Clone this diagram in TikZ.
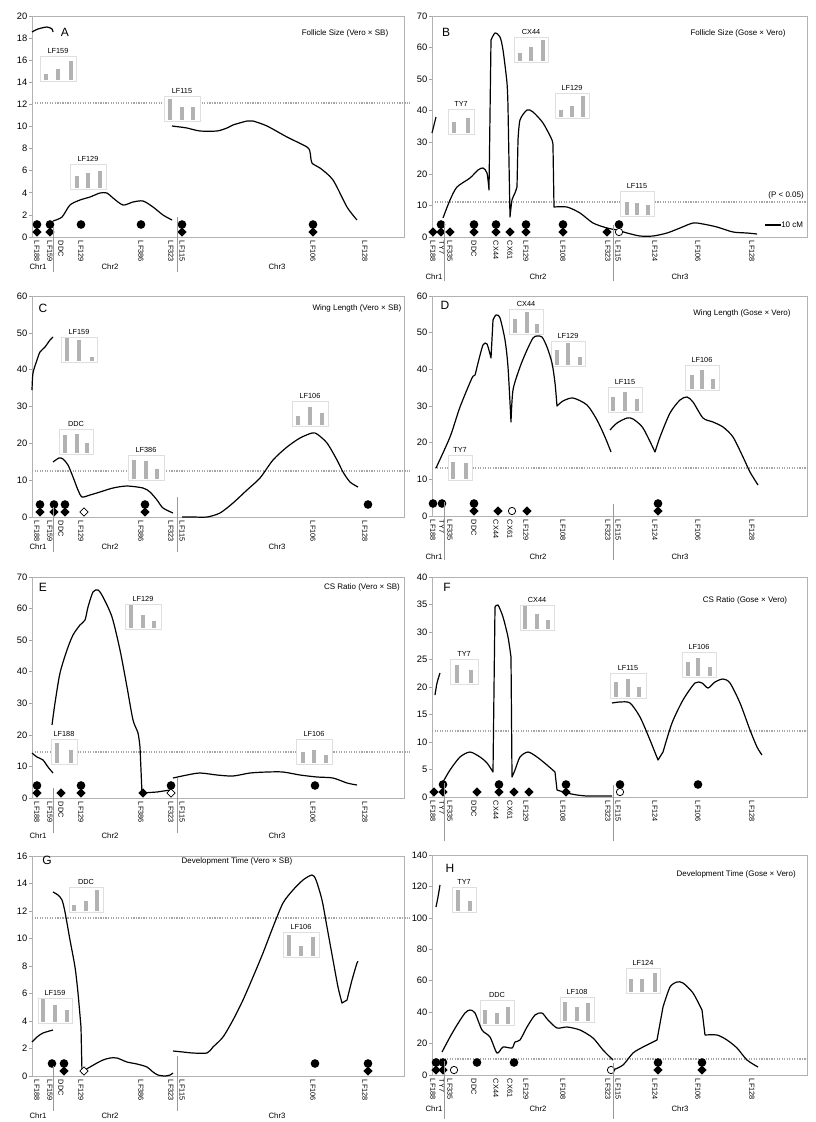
\documentclass[tikz,border=0pt]{standalone}
\usepackage{fontspec}
\setmainfont{Liberation Sans}
\usetikzlibrary{positioning, shapes.geometric}

\tikzset{
  plotbox/.style={draw=gray!60, line width=0.6pt},
  ytick/.style={draw=gray!70, line width=0.5pt},
  ticklab/.style={anchor=east, inner sep=1pt, font=\fontsize{7}{8}\selectfont},
  lod/.style={line width=0.9pt, line join=round},
  thresh/.style={draw=gray!70, densely dotted, line width=0.9pt},
  mlab/.style={rotate=-90, anchor=west, inner sep=0.5pt, font=\fontsize{5.5}{6}\selectfont},
  chrlab/.style={inner sep=0pt, font=\fontsize{5.8}{7}\selectfont},
  ttl/.style={inner sep=0pt, font=\fontsize{6}{7}\selectfont},
  plet/.style={inner sep=0pt, font=\fontsize{9}{10}\selectfont},
  qcirc/.style={circle, fill=black, inner sep=0pt, minimum size=6.5pt},
  qdia/.style={diamond, fill=black, inner sep=0pt, minimum size=7pt},
  qopen/.style={diamond, draw=black, fill=white, inner sep=0pt, minimum size=6.5pt, line width=0.6pt},
  qopenc/.style={circle, draw=black, fill=white, inner sep=0pt, minimum size=5.5pt, line width=0.6pt},
  sepline/.style={draw=gray!80, line width=0.6pt},
  inbox/.style={draw=gray!25, fill=white, line width=0.5pt},
  qbar/.style={fill=gray!60},
  inlab/.style={inner sep=0pt, font=\fontsize{5.5}{6}\selectfont},
}

% panel, x, top, bottom, max, step
\newcommand{\qyaxis}[6]{%
  \foreach \v in {0,#6,...,#5}
    \draw[ytick] (#2,{#4-\v/#5*(#4-#3)}) -- ++(-3,0) node[ticklab] (#1-y\v) {\v};
}
% name, centre x, bottom, half width, label, bars dx/height
\newcommand{\qinset}[6]{%
  \draw[inbox] ({#2-#4},{#3+1.5}) rectangle ({#2+#4},{#3-24});
  \node[inlab] (#1) at (#2,{#3-29}) {#5};
  \foreach \bx/\bh in {#6}
    \fill[qbar] ({#2+(\bx)-2},#3) rectangle ({#2+(\bx)+2},{#3-\bh});
}
\newcommand{\mkboth}[4]{\node[qdia] (#1-#2-d) at (#3,{#4-5}) {}; \node[qcirc] (#1-#2-c) at (#3,{#4-12.5}) {};}
\newcommand{\mkcirc}[4]{\node[qcirc] (#1-#2-c) at (#3,{#4-12.5}) {};}
\newcommand{\mkdia}[4]{\node[qdia] (#1-#2-d) at (#3,{#4-5}) {};}
\newcommand{\mkopen}[4]{\node[qopen] (#1-#2-o) at (#3,{#4-5}) {};}
\newcommand{\mkopenc}[4]{\node[qopenc] (#1-#2-o) at (#3,{#4-5}) {};}

\newcommand{\leftlabels}[2]{%
  \foreach \n/\x in {LF188/37, LF159/50, DDC/61, LF129/81, LF386/141, LF323/171, LF115/182, LF106/313, LF128/365}
    \node[mlab] (#1-\n-lab) at (\x,{#2+3}) {\n};
  \draw[sepline] (53,{#2-10}) -- (53,{#2+35});
  \draw[sepline] (177,{#2-20}) -- (177,{#2+35});
}
\newcommand{\rightlabels}[2]{%
  \foreach \n/\x in {LF188/433, TY7/442, LF335/450, DDC/474, CX44/496, CX61/510, LF129/526, LF108/563, LF323/608, LF115/618, LF124/655, LF106/698, LF128/752}
    \node[mlab] (#1-\n-lab) at (\x,{#2+3}) {\n};
  \draw[sepline] (444,{#2-14}) -- (444,{#2+44});
  \draw[sepline] (613,{#2-12}) -- (613,{#2+44});
}
\newcommand{\leftchr}[2]{%
  \node[chrlab] (#1-chr1) at (38,#2) {Chr1};
  \node[chrlab] (#1-chr2) at (110,#2) {Chr2};
  \node[chrlab] (#1-chr3) at (277,#2) {Chr3};
}
\newcommand{\rightchr}[2]{%
  \node[chrlab] (#1-chr1) at (434,#2) {Chr1};
  \node[chrlab] (#1-chr2) at (538,#2) {Chr2};
  \node[chrlab] (#1-chr3) at (680,#2) {Chr3};
}

\begin{document}
\begin{tikzpicture}[x=0.75pt, y=-0.75pt]
  \useasboundingbox (0,0) rectangle (816,1122);

  % A
  \draw[plotbox] (32,16) rectangle (404,237);
  \qyaxis{A}{32}{16}{237}{20}{2}
  \draw[thresh] (32,103) -- (410,103);
  \qinset{A-LF159}{58}{80}{18}{LF159}{-12/6, 0/11, 13/19}
  \qinset{A-LF115}{182}{120}{18}{LF115}{-12/21, 0/13, 11/13}
  \qinset{A-LF129}{88}{188}{18}{LF129}{-11/12, 0/15, 12/17}
  \draw[lod] plot[smooth, tension=0.45] coordinates {(32,32) (38,29) (47,27) (52,29) (53,32)};
  \draw[lod] plot[smooth, tension=0.45] coordinates {(53,221) (62,217) (70,205) (80,200) (90,197) (100,193) (107,193) (113,198) (123,205) (133,202) (143,201) (153,207) (163,215) (172,220)};
  \draw[lod] plot[smooth, tension=0.45] coordinates {(172,126) (180,127) (187,128) (200,131) (217,131) (227,128) (233,125) (247,121) (253,121) (267,126) (287,137) (307,147) (310,152) (312,163) (320,168) (333,180) (347,207) (357,220)};
  \mkboth{A}{LF188}{37}{237} \mkboth{A}{LF159}{50}{237}
  \mkcirc{A}{LF129}{81}{237} \mkcirc{A}{LF386}{141}{237}
  \mkboth{A}{LF115}{182}{237} \mkboth{A}{LF106}{313}{237}
  \leftlabels{A}{237}
  \leftchr{A}{267}
  \node[plet] (A) at (65,32) {A};
  \node[ttl] (A-title) at (345,33) {Follicle Size (Vero × SB)};

  % B
  \draw[plotbox] (432,16) rectangle (807,237);
  \qyaxis{B}{432}{16}{237}{70}{10}
  \draw[thresh] (432,202) -- (807,202);
  \qinset{B-TY7}{461}{133}{13}{TY7}{-7/11, 7/15}
  \qinset{B-CX44}{531}{61}{17}{CX44}{-11/8, 0/14, 12/21}
  \qinset{B-LF129}{572}{117}{17}{LF129}{-11/7, 0/11, 11/21}
  \qinset{B-LF115}{637}{215}{17}{LF115}{-10/13, 0/12, 11/10}
  \draw[lod] (432,133) -- (436,117);
  \draw[lod] plot[smooth, tension=0.45] coordinates {(443,218) (450,200) (457,187) (470,178) (478,170) (483,168) (487,173) (489,190)}
    -- plot[smooth, tension=0.45] coordinates {(491,40) (495,33) (500,37) (503,50) (507,83) (508,107)}
    -- plot[smooth, tension=0.45] coordinates {(510,217) (512,200) (515,193) (517,187)}
    -- plot[smooth, tension=0.45] coordinates {(518,140) (520,120) (527,110) (533,112) (543,123) (552,140) (553,147)}
    -- plot[smooth, tension=0.45] coordinates {(554,207) (567,207) (580,213) (593,223) (607,228) (617,230) (627,233) (640,236) (653,236) (667,233) (680,228) (693,223) (703,224) (717,227) (733,232) (747,233) (757,234)};
  \mkdia{B}{LF188}{433}{237} \mkboth{B}{TY7}{441}{237} \mkdia{B}{LF335}{450}{237}
  \mkboth{B}{DDC}{474}{237} \mkboth{B}{CX44}{496}{237} \mkdia{B}{CX61}{510}{237}
  \mkboth{B}{LF129}{526}{237} \mkboth{B}{LF108}{563}{237} \mkdia{B}{LF323}{607}{237}
  \mkopenc{B}{LF115}{619}{237} \mkcirc{B}{LF115}{619}{237}
  \rightlabels{B}{237}
  \rightchr{B}{277}
  \node[plet] (B) at (446,32) {B};
  \node[ttl] (B-title) at (738,33) {Follicle Size (Gose × Vero)};
  \node[ttl, anchor=east] (B-p) at (804,195) {(P < 0.05)};
  \coordinate (B-sb) at (765,225);
  \node[ttl, right=12pt of B-sb] (B-sbl) {10 cM};
  \draw[lod] (B-sb) -- (B-sbl.west);

  % C
  \draw[plotbox] (32,296) rectangle (404,517);
  \qyaxis{C}{32}{296}{517}{60}{10}
  \draw[thresh] (32,471) -- (410,471);
  \qinset{C-LF159}{79}{361}{18}{LF159}{-12/23, 0/21, 13/4}
  \qinset{C-DDC}{76}{453}{17}{DDC}{-11/18, 1/19, 11/10}
  \qinset{C-LF386}{146}{479}{18}{LF386}{-12/19, 0/18, 11/10}
  \qinset{C-LF106}{310}{425}{18}{LF106}{-12/9, 0/18, 12/12}
  \draw[lod] plot[smooth, tension=0.45] coordinates {(32,390) (33,373) (37,360) (40,352) (45,347) (50,340) (53,337)};
  \draw[lod] plot[smooth, tension=0.45] coordinates {(53,462) (59,458) (63,459) (68,465) (73,477) (78,490) (82,497) (90,495) (100,492) (113,488) (127,486) (143,488) (150,492) (157,500) (163,508) (173,513)};
  \draw[lod] plot[smooth, tension=0.45] coordinates {(182,517) (193,517) (207,517) (220,513) (233,503) (247,490) (260,478) (273,460) (287,447) (300,438) (312,433) (317,434) (327,443) (337,460) (343,472) (350,482) (358,487)};
  \mkboth{C}{LF188}{40}{517} \mkboth{C}{LF159}{54}{517} \mkboth{C}{DDC}{65}{517}
  \mkopen{C}{LF129}{84}{517} \mkboth{C}{LF386}{145}{517} \mkcirc{C}{LF128}{368}{517}
  \leftlabels{C}{517}
  \leftchr{C}{547}
  \node[plet] (C) at (43,308) {C};
  \node[ttl] (C-title) at (357,308) {Wing Length (Vero × SB)};

  % D
  \draw[plotbox] (432,296) rectangle (807,516);
  \qyaxis{D}{432}{296}{516}{60}{10}
  \draw[thresh] (432,468) -- (807,468);
  \qinset{D-TY7}{460}{479}{12}{TY7}{-7/17, 6/16}
  \qinset{D-CX44}{526}{333}{17}{CX44}{-11/14, 1/21, 11/9}
  \qinset{D-LF129}{568}{365}{17}{LF129}{-11/15, 0/22, 12/8}
  \qinset{D-LF115}{625}{411}{17}{LF115}{-12/14, 0/19, 12/12}
  \qinset{D-LF106}{702}{389}{17}{LF106}{-10/14, 0/19, 11/10}
  \draw[lod] plot[smooth, tension=0.45] coordinates {(436,468) (450,437) (460,407) (472,378) (475,375) (478,363) (483,345) (487,344) (491,358)}
    -- plot[smooth, tension=0.45] coordinates {(493,320) (496,315) (500,318) (505,340) (508,367) (511,422)}
    -- plot[smooth, tension=0.45] coordinates {(511,422) (513,390) (520,367) (527,350) (533,338) (537,336) (542,337) (547,347) (552,363) (555,383) (557,406)}
    -- plot[smooth, tension=0.45] coordinates {(557,406) (563,401) (573,398) (587,405) (597,420) (605,437) (611,452)};
  \draw[lod] plot[smooth, tension=0.45] coordinates {(610,430) (617,423) (627,418) (633,419) (643,428) (655,452)}
    -- plot[smooth, tension=0.45] coordinates {(655,452) (660,437) (670,413) (680,400) (687,397) (693,402) (703,418) (713,422) (723,427) (733,437) (743,457) (750,472) (758,485)};
  \mkcirc{D}{LF188}{433}{516} \mkcirc{D}{TY7}{442}{516} \mkboth{D}{DDC}{474}{516}
  \mkdia{D}{CX44}{498}{516} \mkopenc{D}{CX61}{512}{516} \mkdia{D}{LF129}{527}{516}
  \mkboth{D}{LF124}{658}{516}
  \rightlabels{D}{516}
  \rightchr{D}{557}
  \node[plet] (D) at (445,305) {D};
  \node[ttl] (D-title) at (742,313) {Wing Length (Gose × Vero)};

  % E
  \draw[plotbox] (32,577) rectangle (404,798);
  \qyaxis{E}{32}{577}{798}{70}{10}
  \draw[thresh] (32,752) -- (410,752);
  \qinset{E-LF129}{143}{628}{18}{LF129}{-12/23, 0/13, 11/7}
  \qinset{E-LF188}{64}{763}{13}{LF188}{-7/20, 7/13}
  \qinset{E-LF106}{314}{763}{18}{LF106}{-11/11, 0/13, 12/8}
  \draw[lod] plot[smooth, tension=0.45] coordinates {(32,753) (37,757) (43,760) (48,767) (53,773)};
  \draw[lod] plot[smooth, tension=0.45] coordinates {(52,725) (55,703) (60,673) (67,650) (73,635) (80,625) (85,620) (88,607) (93,592) (98,590) (103,597) (112,617) (120,650) (127,687) (133,720) (138,733) (140,747)}
    -- (142,793) -- (157,792) -- (170,790);
  \draw[lod] plot[smooth, tension=0.45] coordinates {(173,778) (187,775) (200,773) (217,775) (233,776) (250,773) (267,772) (283,772) (300,775) (317,777) (333,778) (347,783) (357,785)};
  \mkboth{E}{LF188}{37}{798} \mkdia{E}{DDC}{61}{798} \mkboth{E}{LF129}{81}{798}
  \mkdia{E}{LF386}{143}{798} \mkopen{E}{LF323}{171}{798} \mkcirc{E}{LF323}{171}{798}
  \mkcirc{E}{LF106}{315}{798}
  \leftlabels{E}{798}
  \leftchr{E}{836}
  \node[plet] (E) at (43,587) {E};
  \node[ttl] (E-title) at (362,587) {CS Ratio (Vero × SB)};

  % F
  \draw[plotbox] (432,577) rectangle (807,797);
  \qyaxis{F}{432}{577}{797}{40}{5}
  \draw[thresh] (432,731) -- (807,731);
  \qinset{F-TY7}{464}{683}{14}{TY7}{-7/18, 7/13}
  \qinset{F-CX44}{537}{629}{17}{CX44}{-12/23, 0/15, 11/9}
  \qinset{F-LF115}{628}{697}{18}{LF115}{-12/15, 0/18, 11/10}
  \qinset{F-LF106}{699}{676}{17}{LF106}{-11/14, -1/18, 11/9}
  \draw[lod] plot[smooth, tension=0.45] coordinates {(435,695) (437,683) (440,673)};
  \draw[lod] plot[smooth, tension=0.45] coordinates {(443,782) (450,770) (460,757) (470,752) (480,757) (487,763) (493,772)}
    -- plot[smooth, tension=0.45] coordinates {(495,607) (498,605) (503,617) (508,637) (511,657)}
    -- plot[smooth, tension=0.45] coordinates {(512,777) (515,770) (520,757) (528,752) (537,757) (547,765) (555,772)}
    -- plot[smooth, tension=0.45] coordinates {(557,790) (567,793) (577,795) (587,796) (600,796) (612,796)};
  \draw[lod] plot[smooth, tension=0.45] coordinates {(612,703) (620,702) (630,703) (640,717) (650,740) (658,760)}
    -- plot[smooth, tension=0.45] coordinates {(663,752) (672,723) (683,700) (695,683) (702,683) (708,688) (715,682) (723,679) (730,683) (740,703) (750,730) (757,747) (762,755)};
  \mkdia{F}{LF188}{434}{797} \mkboth{F}{TY7}{443}{797} \mkdia{F}{DDC}{477}{797}
  \mkboth{F}{CX44}{499}{797} \mkdia{F}{CX61}{514}{797} \mkdia{F}{LF129}{529}{797}
  \mkboth{F}{LF108}{566}{797} \mkopenc{F}{LF115}{620}{797} \mkcirc{F}{LF115}{620}{797}
  \mkcirc{F}{LF106}{698}{797}
  \rightlabels{F}{797}
  \node[plet] (F) at (447,587) {F};
  \node[ttl] (F-title) at (745,600) {CS Ratio (Gose × Vero)};

  % G
  \draw[plotbox] (32,856) rectangle (404,1076);
  \qyaxis{G}{32}{856}{1076}{16}{2}
  \draw[thresh] (32,918) -- (410,918);
  \qinset{G-DDC}{86}{911}{17}{DDC}{-12/6, 0/10, 11/21}
  \qinset{G-LF159}{55}{1022}{17}{LF159}{-12/23, 0/17, 12/12}
  \qinset{G-LF106}{301}{956}{18}{LF106}{-12/21, 0/10, 12/19}
  \draw[lod] plot[smooth, tension=0.45] coordinates {(32,1042) (37,1037) (43,1033) (53,1030)};
  \draw[lod] plot[smooth, tension=0.45] coordinates {(53,892) (58,895) (62,900) (65,912) (70,940) (75,967) (78,993) (81,1027)}
    -- plot[smooth, tension=0.45] coordinates {(82,1073) (85,1070) (90,1067) (97,1063) (103,1060) (110,1058) (117,1058) (127,1062) (137,1064) (147,1067) (153,1072) (158,1075) (165,1076) (170,1075) (173,1073)};
  \draw[lod] plot[smooth, tension=0.45] coordinates {(173,1051) (183,1052) (193,1053) (207,1053) (213,1047) (223,1037) (233,1020) (243,1000) (253,977) (263,953) (273,927) (283,903) (293,890) (303,880) (312,875) (316,880) (322,900) (327,927) (333,960) (338,987) (342,1003)}
    -- plot[smooth, tension=0.45] coordinates {(347,1000) (352,980) (357,963) (358,962)};
  \mkcirc{G}{LF159}{52}{1076} \mkboth{G}{DDC}{64}{1076} \mkopen{G}{LF129}{84}{1076}
  \mkcirc{G}{LF106}{315}{1076} \mkboth{G}{LF128}{368}{1076}
  \leftlabels{G}{1076}
  \leftchr{G}{1116}
  \node[plet] (G) at (47,860) {G};
  \node[ttl] (G-title) at (237,861) {Development Time (Vero × SB)};

  % H
  \draw[plotbox] (432,855) rectangle (807,1075);
  \qyaxis{H}{432}{855}{1075}{140}{20}
  \draw[thresh] (432,1059) -- (807,1059);
  \qinset{H-TY7}{464}{911}{12}{TY7}{-6/21, 6/10}
  \qinset{H-DDC}{497}{1024}{17}{DDC}{-12/14, 0/11, 11/17}
  \qinset{H-LF108}{577}{1021}{17}{LF108}{-12/19, 0/14, 11/18}
  \qinset{H-LF124}{643}{992}{17}{LF124}{-12/13, -1/13, 12/19}
  \draw[lod] plot[smooth, tension=0.45] coordinates {(436,907) (438,897) (440,885)};
  \draw[lod] plot[smooth, tension=0.45] coordinates {(442,1052) (450,1037) (457,1025) (465,1013) (470,1010) (475,1013) (482,1030) (490,1037) (497,1053) (503,1047) (512,1048) (515,1042) (520,1040) (527,1027) (535,1015) (542,1013) (548,1020) (557,1028) (567,1027) (580,1030) (593,1038) (603,1050) (613,1060)};
  \draw[lod] plot[smooth, tension=0.45] coordinates {(613,1070) (623,1065) (633,1053) (643,1047) (657,1040)}
    -- plot[smooth, tension=0.45] coordinates {(663,1007) (670,987) (677,982) (683,983) (693,993) (702,1010)}
    -- plot[smooth, tension=0.45] coordinates {(705,1035) (717,1035) (727,1040) (737,1048) (747,1060) (758,1067)};
  \mkboth{H}{LF188}{436}{1075} \mkboth{H}{TY7}{443}{1075} \mkopenc{H}{LF335}{454}{1075}
  \mkcirc{H}{DDC}{477}{1075} \mkcirc{H}{CX61}{514}{1075} \mkopenc{H}{LF323}{611}{1075}
  \mkboth{H}{LF124}{658}{1075} \mkboth{H}{LF106}{702}{1075}
  \rightlabels{H}{1075}
  \rightchr{H}{1109}
  \node[plet] (H) at (450,868) {H};
  \node[ttl, anchor=east] (H-title) at (796,874) {Development Time (Gose × Vero)};
\end{tikzpicture}
\end{document}
